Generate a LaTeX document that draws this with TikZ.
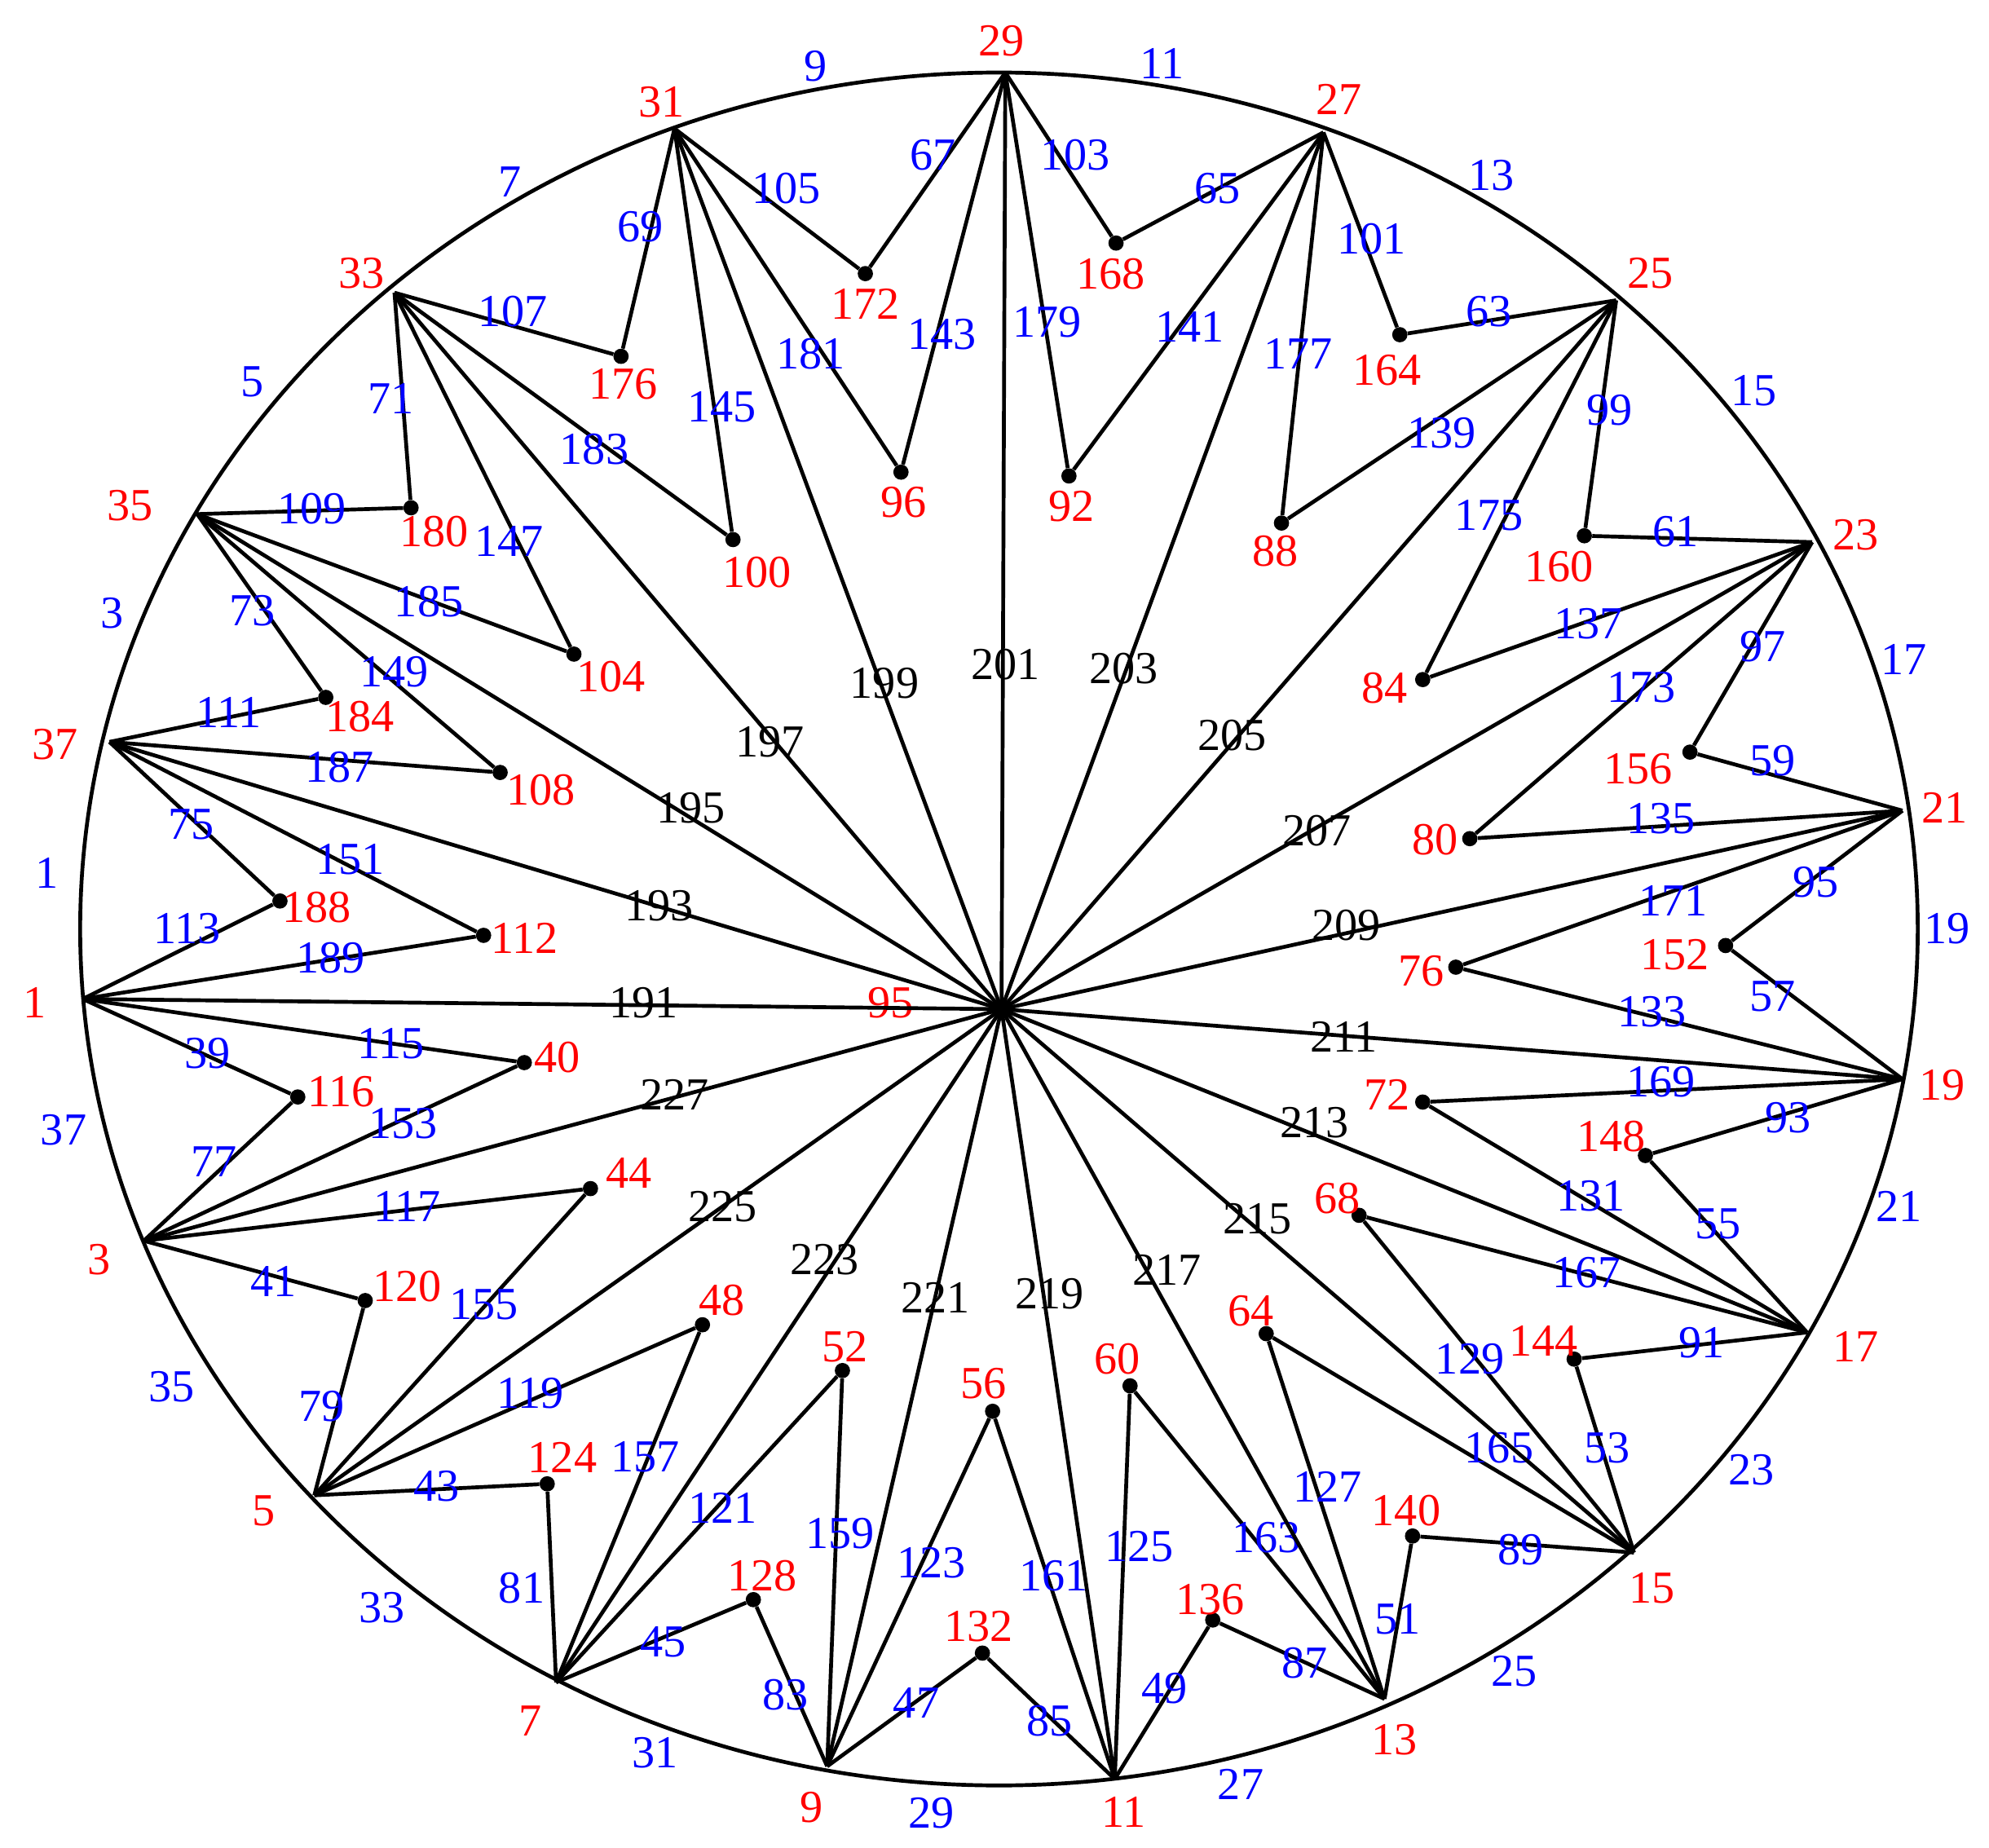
\documentclass[tikz,border=0pt]{standalone}
\usepackage{fontspec}
\setmainfont{Liberation Serif}
\begin{document}
\begin{tikzpicture}[x=1pt,y=-1pt,
  edge/.style={line width=3pt,line join=round},
  rl/.style={text=red,inner sep=0pt,font=\fontsize{36}{36}\selectfont},
  bl/.style={text=blue,inner sep=0pt,font=\fontsize{36}{36}\selectfont},
  kl/.style={text=black,inner sep=0pt,font=\fontsize{36}{36}\selectfont},
  dot/.style={circle,fill=black,inner sep=0pt,minimum size=12pt}]
\useasboundingbox (0,0) rectangle (1563,1452);
\draw[line width=3pt] (785,730) ellipse [x radius=722, y radius=673];
\coordinate (C) at (787,793);
% outer vertices: name/pos/label pos
\foreach \n/\x/\y/\lx/\ly in {1/65/785/27/788, 3/113/975/78/990, 5/247/1175/207/1187, 7/437/1322/417/1352, 9/650/1388/638/1420, 11/876/1398/883/1424, 13/1088/1335/1096/1367, 15/1284/1220/1298/1248, 17/1420/1047/1458/1058, 19/1495/848/1526/853, 21/1495/637/1528/635, 23/1424/426/1458/420, 25/1270/236/1297/215, 27/1040/104/1052/78, 29/790/57/787/32, 31/530/101/520/80, 33/310/230/284/215, 35/155/404/102/397, 37/86/583/43/585}{
  \coordinate (o\n) at (\x,\y);
  \node[rl] (lo\n) at (\lx,\ly) {\n};
}
% inner vertices
\foreach \n/\x/\y/\lx/\ly in {96/708/371/710/395, 92/840/374/842/398, 100/576/424/595/450, 104/451/514/480/532, 108/393/607/425/621, 112/380/735/412/737, 40/412/835/438/831, 44/464/934/494/922, 48/552/1041/567/1022, 52/662/1077/664/1058, 56/780/1109/773/1087, 60/888/1089/878/1068, 64/995/1048/983/1030, 68/1068/955/1051/942, 72/1118/866/1090/860, 76/1144/760/1117/763, 80/1155/659/1128/660, 84/1118/534/1088/541, 88/1007/411/1002/433, 172/680/215/680/239, 168/877/191/873/215, 176/488/280/490/302, 164/1100/263/1090/291, 180/323/399/341/418, 160/1245/421/1225/445, 184/256/548/283/563, 156/1328/591/1287/604, 188/220/708/249/713, 152/1356/743/1316/750, 116/234/862/268/858, 148/1293/908/1266/893, 120/287/1022/320/1011, 144/1237/1068/1213/1054, 124/430/1166/442/1145, 140/1110/1207/1105/1187, 128/592/1257/599/1238, 136/953/1273/951/1257, 132/772/1299/769/1278}{
  \node[dot] (n\n) at (\x,\y) {};
  \node[rl] (ln\n) at (\lx,\ly) {\n};
}
\node[rl] (l95c) at (700,788) {95};
% edges outer-inner with labels
\foreach \a/\b/\t/\lx/\ly in {
29/172/67/733/122, 29/168/103/845/122, 29/96/143/740/263, 29/92/179/823/253,
31/176/69/503/178, 31/172/105/618/148, 31/100/145/567/320, 31/96/181/637/278,
27/168/65/957/148, 27/164/101/1078/188, 27/92/141/935/257, 27/88/177/1020/278,
33/176/107/403/245, 33/180/71/307/313, 33/104/147/400/425, 33/100/183/467/353,
25/164/63/1170/245, 25/160/99/1265/322, 25/88/139/1133/340, 25/84/175/1170/405,
35/180/109/245/400, 35/184/73/198/480, 35/108/149/310/528, 35/104/185/337/473,
23/160/61/1317/418, 23/156/97/1385/508, 23/84/137/1248/490, 23/80/173/1290/540,
37/184/111/180/560, 37/188/75/150/648, 37/112/151/275/675, 37/108/187/267/603,
21/156/59/1393/598, 21/152/95/1427/693, 21/80/135/1305/643, 21/76/171/1315/708,
1/188/113/147/730, 1/116/39/163/828, 1/112/189/260/753, 1/40/115/307/820,
19/152/57/1393/783, 19/148/93/1405/878, 19/76/133/1298/795, 19/72/169/1305/850,
3/116/77/168/913, 3/120/41/215/1007, 3/40/153/317/883, 3/44/117/320/948,
17/148/55/1350/962, 17/144/91/1337/1055, 17/72/131/1250/940, 17/68/167/1247/1000,
5/120/79/253/1105, 5/124/43/343/1168, 5/44/155/380/1025, 5/48/119/417/1095,
15/144/53/1263/1138, 15/140/89/1195/1218, 15/68/129/1155/1068, 15/64/165/1178/1138,
7/124/81/410/1248, 7/128/45/521/1290, 7/48/157/507/1145, 7/52/121/568/1185,
13/140/51/1098/1272, 13/136/87/1025/1307, 13/64/127/1043/1168, 13/60/163/995/1208,
9/128/83/617/1332, 9/132/47/720/1338, 9/52/159/660/1205, 9/56/123/732/1228,
11/132/85/825/1352, 11/136/49/915/1327, 11/56/161/828/1238, 11/60/125/895/1215}{
  \draw[edge] (o\a) -- (n\b);
  \node[bl] (e\t) at (\lx,\ly) {\t};
}
% spokes
\foreach \a/\t/\lx/\ly in {31/199/695/537, 29/201/790/522, 27/203/883/525, 33/197/605/583, 25/205/968/578, 35/195/543/635, 23/207/1035/653, 37/193/518/712, 21/209/1058/727, 1/191/506/788, 19/211/1056/815, 3/227/530/860, 17/213/1033/882, 5/225/568/948, 15/215/988/958, 7/223/648/990, 13/217/917/998, 9/221/735/1020, 11/219/825/1017}{
  \draw[edge] (C) -- (o\a);
  \node[kl] (s\t) at (\lx,\ly) {\t};
}
% arc labels
\foreach \t/\lx/\ly in {1/37/686, 3/88/482, 5/198/300, 7/401/143, 9/641/52, 11/913/50, 13/1172/138, 15/1378/307, 17/1496/518, 19/1530/730, 21/1492/948, 23/1376/1155, 25/1190/1313, 27/975/1402, 29/732/1425, 31/515/1377, 33/300/1263, 35/135/1090, 37/50/888}{
  \node[bl] (a\t) at (\lx,\ly) {\t};
}
\end{tikzpicture}
\end{document}
